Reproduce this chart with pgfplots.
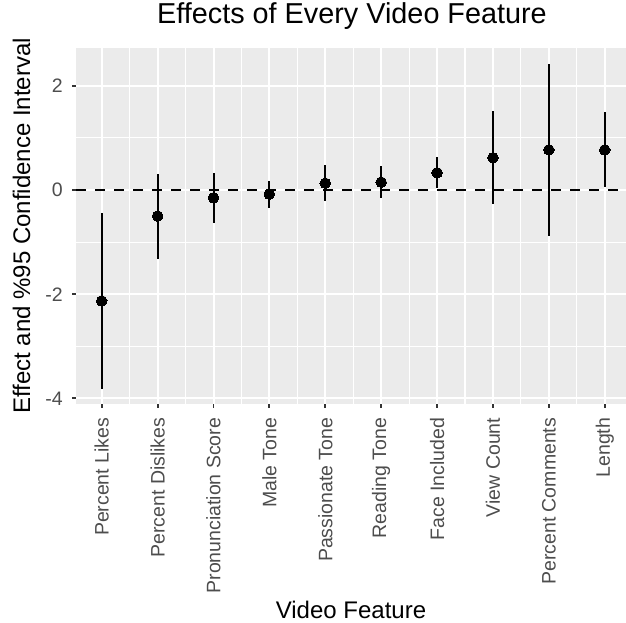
\documentclass[border=0pt]{standalone}
\usepackage{pgfplots}
\pgfplotsset{compat=1.18}
\usepackage{pgfplotstable}
\usepackage{fontspec}
\setmainfont{Liberation Sans}

\definecolor{panelgrey}{HTML}{EBEBEB}
\definecolor{ticktext}{HTML}{4D4D4D}
\definecolor{tickmark}{HTML}{333333}

% effect estimate, upper and lower half-widths of the 95% interval
\pgfplotstableread{
x  y      ep    em
1  -2.13  1.68  1.69
2  -0.50  0.81  0.82
3  -0.15  0.48  0.48
4  -0.08  0.25  0.27
5   0.13  0.35  0.35
6   0.15  0.31  0.30
7   0.33  0.30  0.30
8   0.62  0.90  0.89
9   0.77  1.64  1.66
10  0.77  0.73  0.71
}\effects

\begin{document}
\begin{tikzpicture}
\useasboundingbox (0,0) rectangle (626pt,623pt);
\begin{axis}[
  at={(76pt,219.4pt)}, anchor=south west,
  scale only axis, width=550pt, height=355.3pt,
  xmin=0.54, xmax=10.38, ymin=-4.1, ymax=2.72,
  axis background/.style={fill=panelgrey},
  axis line style={draw=none},
  xtick={1,...,10},
  xticklabels={Percent Likes, Percent Dislikes, Pronunciation Score, Male Tone,
    Passionate Tone, Reading Tone, Face Included, View Count, Percent Comments, Length},
  ytick={-4,-2,0,2},
  minor xtick={1.5,2.5,...,9.5},
  minor ytick={-3,-1,1},
  grid=both,
  major grid style={white, line width=2pt},
  minor grid style={white, line width=1.1pt},
  xtick pos=left, ytick pos=left,
  tick align=outside,
  major tick length=4pt, minor tick length=0pt,
  tick style={tickmark, line width=1.8pt},
  /pgf/number format/assume math mode=true,
  ticklabel style={font=\fontsize{19.5}{20}\selectfont, text=ticktext},
  xticklabel style={rotate=90, anchor=east, inner sep=0pt},
  yticklabel style={anchor=east, inner sep=0pt},
  xticklabel shift=10pt,
  yticklabel shift=9pt,
  title={Effects of Every Video Feature},
  title style={at={(axis description cs:0.5018,1.0535)}, anchor=base,
    inner sep=0pt, font=\fontsize{28.8}{30}\selectfont},
  xlabel={Video Feature},
  xlabel style={at={(axis description cs:0.5,-0.6060)}, anchor=base,
    inner sep=0pt, font=\fontsize{24}{26}\selectfont},
  ylabel={Effect and \%95 Confidence Interval},
  ylabel style={at={(axis description cs:-0.0836,0.5)}, rotate=0, anchor=base,
    inner sep=0pt, font=\fontsize{24}{26}\selectfont},
]
\addplot[black, line width=2pt, dash pattern=on 9.5pt off 9.5pt, forget plot]
  coordinates {(0.54,0) (10.38,0)};
\addplot[only marks, mark=*, mark size=5.3pt,
  mark options={fill=black, draw=black, line width=0pt},
  error bars/.cd, y dir=both, y explicit, error mark=none,
  error bar style={black, line width=2pt}]
  table[x=x, y=y, y error plus=ep, y error minus=em] {\effects};
\end{axis}
\end{tikzpicture}
\end{document}
